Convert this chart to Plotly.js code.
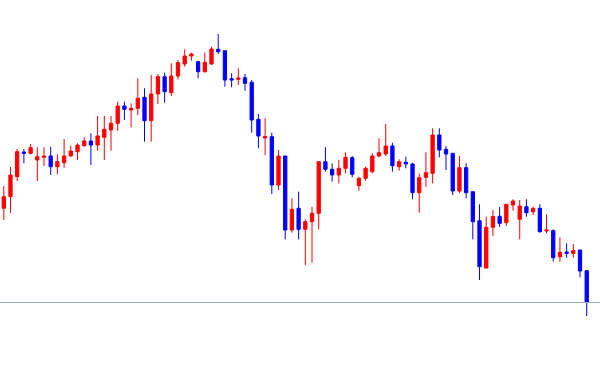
<!DOCTYPE html>
<html>
<head>
<meta charset="utf-8">
<script src="https://cdn.plot.ly/plotly-3.0.1.min.js"></script>
<style>html,body{margin:0;padding:0;background:#fff;}#chart{width:600px;height:369px;}</style>
</head>
<body>
<div id="chart"></div>
<script>
var openP  = [191.7,203.3,223.3,248,246.7,240,242.7,244,233.3,237.3,244,248.3,254.3,259,255,262.7,270,276.7,294,290,291.7,302.7,279.3,306,323.3,307.3,324,336,344,338.3,328.3,336,350.7,349.3,321.3,320.7,322.3,317.7,280.7,262,263.3,215,244,170,191.7,170.7,178.3,186.7,238.3,230.7,225,231.7,242.3,214.3,221.7,228.3,244,246,254,233.3,237.7,236,207.3,222.7,226.7,265,250.7,246.7,209,232.3,208.3,179.3,132,172.7,183.7,177.3,195,180.7,193.3,188.3,191.7,169,169.3,143.3,148,146.7,150,129.3];
var highP  = [214,233,251,251,256,252.7,252.7,253.3,245.7,261,254.3,256.7,262.7,266.7,284,284,284,298.3,298.3,296.7,321.7,311.7,325,326,327.3,336.7,340,350.7,347.3,339.3,347.3,353.3,366,349.3,326.7,331.7,326,320,286,281.7,267.3,250,244,201.7,208.3,180.7,193.3,238.3,252.7,236.7,240,247.7,244,223.3,233.3,246.7,261.7,276,257.3,240.7,243.3,237.3,226.7,247.7,271.7,271.7,254,246.7,244,236.7,208.3,195.7,183.3,190,193,195.7,200.7,200,200.7,193.3,195.7,185.7,170.7,162.7,156.7,156,150,129.3];
var lowP   = [180,187.3,219,236.7,245.7,219,234,225,225.7,232.3,243.3,240,253.3,235,249.3,240,249.3,269.3,280,272.7,285,258.3,258.3,296,297.3,304,320.7,333.3,339.3,321.7,327.3,335,346,313.3,312.7,315,309.3,267.3,251.7,245,206,210,160.7,167.3,160.7,135,137.3,170.7,228.3,218.3,216.7,226.7,222.7,209.3,219.3,226.7,242.7,244,228.3,229.3,231.7,200.7,187.3,213.3,216.7,242.7,230,205,206.7,201.7,160.7,120,131.7,164,173,174,189.3,160.7,183.3,185,167.3,166.7,138.3,138.3,142.3,142.3,122.7,84];
var closeP = [203.3,225,248.3,246.7,252.3,243.3,244,233.3,238.3,244,249,255,259,255,264,270.7,276.7,294,290.7,291.7,301.7,279.3,306,323.3,308.3,324,337.3,344,346,328.3,337.7,351,348.3,320,320,322,316.7,280,264,263.3,215,244,170,190.7,170.7,178.3,186.7,238.3,230.7,225,231.7,242.7,225.7,221.7,231.7,244,247.3,254,234.3,238.3,236,207.3,222.3,227.3,265,250,246,209,232.3,207.3,178.3,133.3,172.7,183.5,176.7,195.7,199,194,187.3,191.7,168.3,170,142.3,147.7,146.7,149.3,129,97.5];
var idx = openP.map(function(_, i){ return i; });

var trace = {
  type: 'candlestick',
  x: idx, open: openP, high: highP, low: lowP, close: closeP,
  increasing: {line: {color: '#ff0000', width: 1}, fillcolor: '#ff0000'},
  decreasing: {line: {color: '#0000ff', width: 1}, fillcolor: '#0000ff'},
  whiskerwidth: 0,
  hoverinfo: 'skip'
};

var layout = {
  width: 600, height: 369,
  margin: {l: 0, r: 0, t: 0, b: 0},
  paper_bgcolor: '#ffffff', plot_bgcolor: '#ffffff',
  showlegend: false,
  xaxis: {range: [-0.567, 88.98], visible: false, rangeslider: {visible: false}, fixedrange: true},
  yaxis: {range: [31, 400], visible: false, fixedrange: true},
  shapes: [{type: 'line', xref: 'paper', x0: 0, x1: 1, yref: 'y',
            y0: closeP[closeP.length - 1], y1: closeP[closeP.length - 1],
            line: {color: '#9eaac0', width: 1}}]
};

Plotly.newPlot('chart', [trace], layout, {staticPlot: true, displayModeBar: false});
</script>
</body>
</html>
